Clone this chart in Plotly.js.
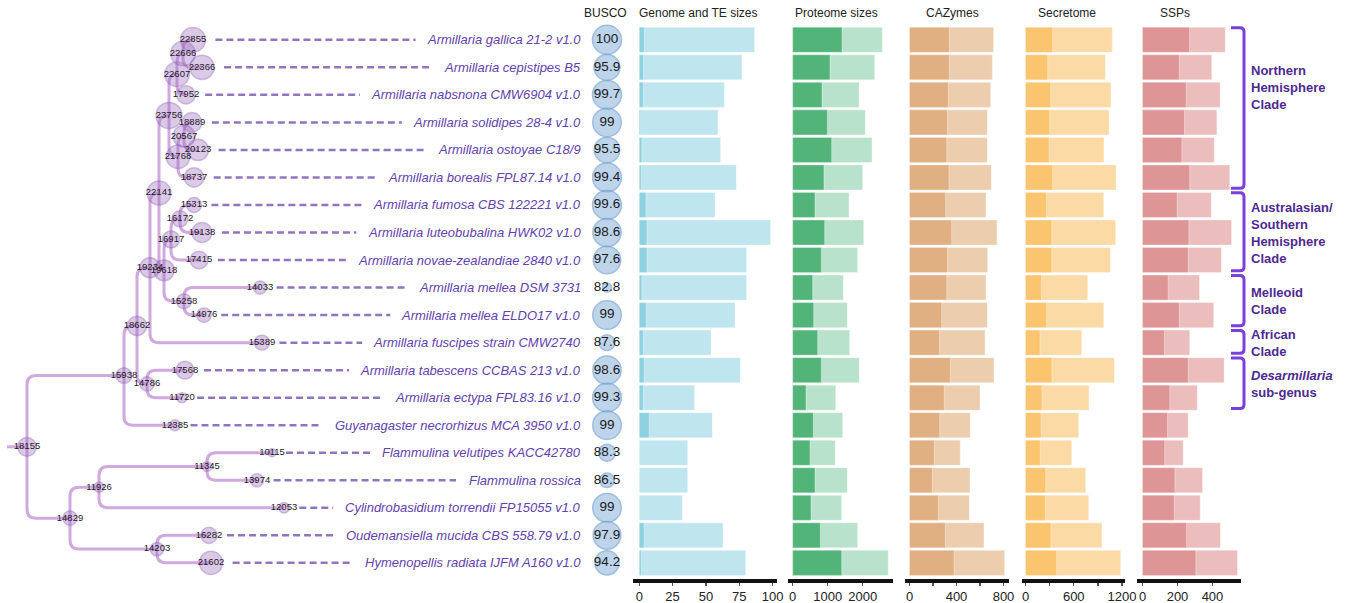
<!DOCTYPE html>
<html>
<head>
<meta charset="utf-8">
<script src="https://cdn.plot.ly/plotly-3.0.1.min.js"></script>
<style>
  html, body { margin: 0; padding: 0; background: #ffffff; }
  #chart { width: 1352px; height: 603px; }
</style>
</head>
<body>
<div id="chart"></div>
<script>
// ---- Species (top to bottom) and per-genome measurements ----
const species = [
  'Armillaria gallica 21-2 v1.0',
  'Armillaria cepistipes B5',
  'Armillaria nabsnona CMW6904 v1.0',
  'Armillaria solidipes 28-4 v1.0',
  'Armillaria ostoyae C18/9',
  'Armillaria borealis FPL87.14 v1.0',
  'Armillaria fumosa CBS 122221 v1.0',
  'Armillaria luteobubalina HWK02 v1.0',
  'Armillaria novae-zealandiae 2840 v1.0',
  'Armillaria mellea DSM 3731',
  'Armillaria mellea ELDO17 v1.0',
  'Armillaria fuscipes strain CMW2740',
  'Armillaria tabescens CCBAS 213 v1.0',
  'Armillaria ectypa FPL83.16 v1.0',
  'Guyanagaster necrorhizus MCA 3950 v1.0',
  'Flammulina velutipes KACC42780',
  'Flammulina rossica',
  'Cylindrobasidium torrendii FP15055 v1.0',
  'Oudemansiella mucida CBS 558.79 v1.0',
  'Hymenopellis radiata IJFM A160 v1.0'
];
const busco = [100, 95.9, 99.7, 99, 95.5, 99.4, 99.6, 98.6, 97.6, 82.8, 99, 87.6, 98.6, 99.3, 99, 88.3, 86.5, 99, 97.9, 94.2];

const genomeSize = [86.5, 77, 63.8, 59, 61, 72.8, 56.8, 98.5, 80.5, 80.5, 71.8, 53.8, 75.8, 41.5, 54.8, 36.3, 36.3, 32.3, 62.8, 79.8];
const teSize     = [3.8, 3.2, 3, 1, 2, 1.5, 5, 5.8, 5.8, 2, 5.2, 3, 3.7, 3, 7.5, 0.3, 0.3, 0.3, 3.7, 1.5];

const proteomeTotal = [2560, 2343, 1894, 2074, 2266, 2000, 1609, 2029, 1857, 1446, 1560, 1629, 1903, 1229, 1429, 1217, 1560, 1400, 1857, 2731];
const proteomePart  = [1409, 1066, 837, 989, 1114, 894, 637, 914, 817, 571, 600, 714, 817, 380, 589, 494, 637, 523, 789, 1400];

const cazyTotal = [716, 705, 691, 662, 662, 696, 651, 745, 665, 651, 662, 643, 719, 600, 517, 432, 515, 509, 634, 810];
const cazyPart  = [339, 339, 330, 322, 317, 336, 308, 359, 322, 317, 274, 254, 347, 296, 257, 211, 194, 245, 305, 379];

const secretomeTotal = [1080, 993, 1063, 1039, 976, 1126, 973, 1122, 1055, 774, 973, 699, 1105, 790, 662, 575, 749, 786, 951, 1184];
const secretomePart  = [338, 276, 313, 301, 292, 338, 259, 326, 326, 197, 264, 180, 330, 205, 193, 184, 251, 247, 317, 388];

const sspTotal = [473, 396, 444, 425, 410, 499, 393, 509, 451, 326, 407, 270, 467, 313, 261, 233, 343, 330, 445, 543];
const sspPart  = [269, 210, 250, 240, 225, 270, 198, 265, 261, 147, 210, 126, 261, 156, 143, 127, 185, 181, 252, 305];

const panelTitles = ['BUSCO', 'Genome and TE sizes', 'Proteome sizes', 'CAZymes', 'Secretome', 'SSPs'];

// ---- Phylogeny: node gene counts, parents and depth from the root ----
const leafNodes  = [22855, 22366, 17952, 18889, 20123, 18737, 15313, 19138, 17415, 14033, 14976, 15389, 17568, 11720, 12385, 10115, 13974, 12053, 16282, 21602];
const leafParent = [22666, 22666, 22607, 20567, 20567, 21768, 16172, 16172, 16917, 15258, 15258, 19234, 14786, 14786, 15938, 11345, 11345, 11926, 14203, 14203];
const leafDepth  = [166, 175, 159, 165, 171, 167, 167, 175, 172, 233, 177, 235, 158, 155, 148, 245, 230, 257, 182, 184];

const innerNodes  = [22666, 22607, 20567, 21768, 23756, 16172, 16917, 15258, 19618, 22141, 19234, 14786, 18662, 15938, 11345, 11926, 14203, 14829, 18155];
const innerParent = [22607, 23756, 21768, 23756, 22141, 16917, 19618, 19618, 22141, 19234, 18662, 18662, 15938, 18155, 11926, 14829, 14829, 18155, null];
const innerDepth  = [156, 150, 157, 151, 142, 153, 144, 157, 137, 132, 123, 120, 110, 97, 180, 72, 130, 43, 0];

// ---- Clades bracketed on the right ----
const cladeNames = ['Northern<br>Hemisphere<br>Clade', 'Australasian/<br>Southern<br>Hemisphere<br>Clade', 'Melleoid<br>Clade', 'African<br>Clade', '<i>Desarmillaria</i><br>sub-genus'];
const cladeFirstRow = [1, 7, 10, 12, 13];
const cladeLastRow  = [6, 9, 11, 12, 14];

// ---------------------------------------------------------------
const W = 1352, H = 603;
const PLOT_H = 579;                 // plot area height (bottom margin holds tick labels)
const PX_PER_ROW = 27.53;
const ROW1_PX = 39.8;
const yTop = 1 - ROW1_PX / PX_PER_ROW;
const yBottom = yTop + PLOT_H / PX_PER_ROW;
const rows = species.map((_, i) => i + 1);
const FONT = 'Arial, "Liberation Sans", sans-serif';
const px = v => v / W;

// tree + BUSCO share one axis measured in pixels, root at 0
const TREE_OFFSET = 27;
const TREE_RIGHT = 630;
const BUSCO_X = 580;
const LABEL_RIGHT = 555;

// build tree
const nodes = {};
leafNodes.forEach((id, i) => { nodes[id] = {id, parent: leafParent[i], depth: leafDepth[i], y: rows[i], children: []}; });
innerNodes.forEach((id, i) => { nodes[id] = {id, parent: innerParent[i], depth: innerDepth[i], y: null, children: []}; });
Object.values(nodes).forEach(n => { if (n.parent != null) nodes[n.parent].children.push(n); });
function yOf(n) {
  if (n.y == null) n.y = n.children.map(yOf).reduce((a, b) => a + b, 0) / n.children.length;
  return n.y;
}
Object.values(nodes).forEach(yOf);
const nodeSize = v => 8 + (v - 10115) * 18 / 13641;

const shapes = [];
const branchColor = 'rgba(204,164,221,0.95)';
Object.values(nodes).forEach(c => {
  if (c.parent == null) {
    shapes.push({type: 'line', xref: 'x', yref: 'y', x0: c.depth - 20, x1: c.depth, y0: c.y, y1: c.y,
                 line: {color: branchColor, width: 3}, layer: 'below'});
    return;
  }
  const p = nodes[c.parent];
  const dir = Math.sign(c.y - p.y);
  const rx = Math.min(9, c.depth - p.depth);
  const ry = Math.min(9 / PX_PER_ROW, Math.abs(c.y - p.y));
  const path = `M ${p.depth},${p.y} L ${p.depth},${c.y - dir * ry} Q ${p.depth},${c.y} ${p.depth + rx},${c.y} L ${c.depth},${c.y}`;
  shapes.push({type: 'path', xref: 'x', yref: 'y', path, line: {color: branchColor, width: 3}, layer: 'below'});
});

// dashed leaders from each leaf to its species name
const ctx = document.createElement('canvas').getContext('2d');
ctx.font = 'italic 13px "Liberation Sans", Arial, sans-serif';
leafNodes.forEach((id, i) => {
  const n = nodes[id];
  const start = n.depth + nodeSize(id) / 2 + 10;
  const end = LABEL_RIGHT - ctx.measureText(species[i]).width - 14;
  shapes.push({type: 'line', xref: 'x', yref: 'y', x0: start, x1: end, y0: n.y, y1: n.y,
               line: {color: 'rgba(140,110,188,0.95)', width: 2.5, dash: '7px,4px'}, layer: 'below'});
});

// clade brackets
const BR_X = px(1244), BR_X0 = px(1231), BR_R = 4;
cladeFirstRow.forEach((f, i) => {
  const t = f - 0.44, b = cladeLastRow[i] + 0.39;
  const rx = px(BR_R), ry = BR_R / PX_PER_ROW;
  const path = `M ${BR_X0},${t} L ${BR_X - rx},${t} Q ${BR_X},${t} ${BR_X},${t + ry} L ${BR_X},${b - ry} Q ${BR_X},${b} ${BR_X - rx},${b} L ${BR_X0},${b}`;
  shapes.push({type: 'path', xref: 'paper', yref: 'y', path, line: {color: '#7a3fdc', width: 3}});
});

// ---- traces ----
const traces = [];
const allIds = Object.keys(nodes).map(Number);
traces.push({
  type: 'scatter', mode: 'markers+text', xaxis: 'x', yaxis: 'y',
  x: allIds.map(id => nodes[id].depth), y: allIds.map(id => nodes[id].y),
  text: allIds.map(String), textposition: 'middle center',
  textfont: {size: 9.5, color: '#1f1a26', family: FONT},
  marker: {size: allIds.map(nodeSize), color: 'rgba(160,112,192,0.52)',
           line: {color: 'rgba(145,100,182,0.6)', width: 1.5}},
  hoverinfo: 'skip', cliponaxis: false
});

const buscoSize = v => 29 - 20 * Math.pow((100 - v) / 17.2, 1.3);
traces.push({
  type: 'scatter', mode: 'markers+text', xaxis: 'x', yaxis: 'y',
  x: rows.map(() => BUSCO_X), y: rows, text: busco.map(String), textposition: 'middle center',
  textfont: {size: 13.5, color: '#1a1a1a', family: FONT},
  marker: {size: busco.map(buscoSize), color: 'rgba(146,185,222,0.85)', line: {color: 'rgba(115,160,208,0.95)', width: 1.5}},
  hoverinfo: 'skip', cliponaxis: false
});

const panels = [
  {axis: 'x2', total: genomeSize, part: teSize, light: '#bfe5ee', dark: '#8ed2e2'},
  {axis: 'x3', total: proteomeTotal, part: proteomePart, light: '#b8e2cb', dark: '#52b478'},
  {axis: 'x4', total: cazyTotal, part: cazyPart, light: '#eccdae', dark: '#e0b082'},
  {axis: 'x5', total: secretomeTotal, part: secretomePart, light: '#fbdaa6', dark: '#fbc46e'},
  {axis: 'x6', total: sspTotal, part: sspPart, light: '#ebbdbd', dark: '#de9595'}
];
panels.forEach(p => {
  [[p.total, p.light], [p.part, p.dark]].forEach(([vals, color]) => {
    traces.push({type: 'bar', orientation: 'h', xaxis: p.axis, yaxis: 'y', x: vals, y: rows,
                 marker: {color, line: {color: 'rgba(255,255,255,0.6)', width: 0.6}}, hoverinfo: 'skip'});
  });
});

// ---- axes ----
function valueAxis(left, right, range, tickvals, minorStep) {
  const ax = {
    domain: [px(left), px(right)], range, anchor: 'y', fixedrange: true,
    showgrid: false, zeroline: false, showline: true, linecolor: '#111', linewidth: 3.5,
    tickmode: 'array', tickvals, ticktext: tickvals.map(String), ticks: 'outside', ticklen: 3,
    tickwidth: 1.5, tickcolor: '#555', tickfont: {size: 13, color: '#222', family: FONT}
  };
  if (minorStep) ax.minor = {dtick: minorStep, ticks: 'outside', ticklen: 3, tickwidth: 1.5, tickcolor: '#555'};
  return ax;
}

const annotations = [];
const headerX = [605, 699, 836, 952, 1067, 1175];
panelTitles.forEach((t, i) => annotations.push({
  text: t, xref: 'paper', yref: 'paper', x: px(headerX[i]), y: 1 - 13 / PLOT_H,
  xanchor: 'center', yanchor: 'middle', showarrow: false, font: {size: 12, color: '#222', family: FONT}
}));
species.forEach((s, i) => annotations.push({
  text: '<i>' + s + '</i>', xref: 'x', yref: 'y', x: LABEL_RIGHT, y: rows[i],
  xanchor: 'right', yanchor: 'middle', showarrow: false, borderpad: 0,
  font: {size: 13, color: '#6441ad', family: FONT}
}));
cladeNames.forEach((c, i) => {
  const mid = (cladeFirstRow[i] + cladeLastRow[i]) / 2;
  annotations.push({
    text: '<b>' + c + '</b>', xref: 'paper', yref: 'y', x: px(1249), y: Math.min(mid, cladeFirstRow[i] + 1.75),
    xanchor: 'left', yanchor: 'middle', align: 'left', showarrow: false,
    font: {size: 13, color: '#4e2a90', family: FONT}
  });
});

const layout = {
  width: W, height: H, margin: {l: 0, r: 0, t: 0, b: H - PLOT_H, pad: 0},
  paper_bgcolor: '#ffffff', plot_bgcolor: 'rgba(0,0,0,0)',
  showlegend: false, barmode: 'overlay', bargap: 0.09, hovermode: false,
  font: {family: FONT, color: '#222'},
  yaxis: {range: [yBottom, yTop], domain: [0, 1], showgrid: false, zeroline: false,
          showline: false, showticklabels: false, ticks: '', fixedrange: true},
  xaxis: {domain: [0, px(TREE_RIGHT)], range: [-TREE_OFFSET, TREE_RIGHT - TREE_OFFSET], anchor: 'y',
          visible: false, fixedrange: true},
  xaxis2: valueAxis(633, 777, [-4.7, 103.3], [0, 25, 50, 75, 100]),
  xaxis3: valueAxis(788, 893, [-134, 2866], [0, 1000, 2000]),
  xaxis4: valueAxis(905, 1009, [-38.3, 846.8], [0, 400, 800], 200),
  xaxis5: valueAxis(1022, 1125, [-43.5, 1237.6], [0, 600, 1200], 300),
  xaxis6: valueAxis(1137, 1241, [-31.4, 563], [0, 200, 400]),
  shapes, annotations
};

Plotly.newPlot('chart', traces, layout, {displayModeBar: false, staticPlot: true});
</script>
</body>
</html>
